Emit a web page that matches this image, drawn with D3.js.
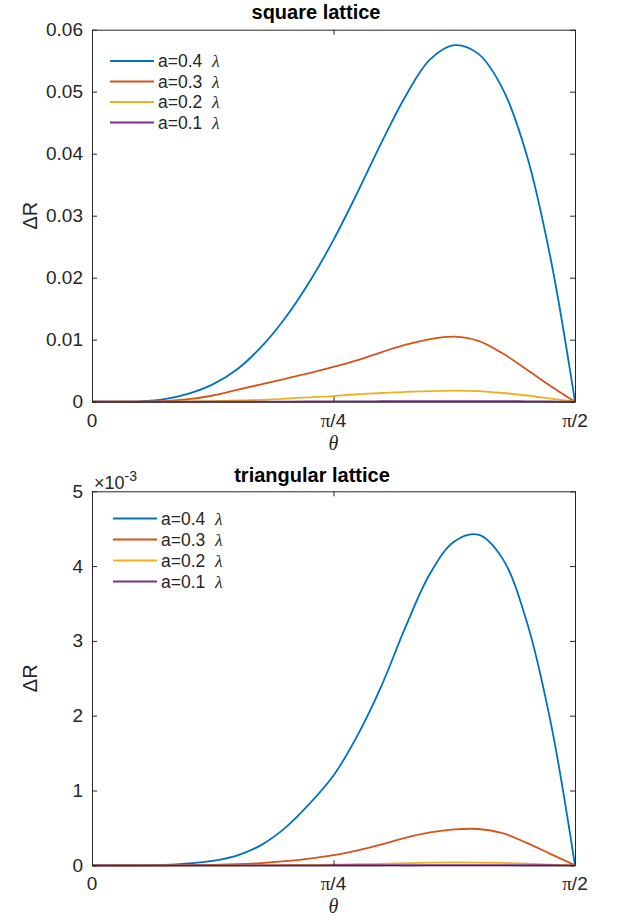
<!DOCTYPE html>
<html>
<head>
<meta charset="utf-8">
<script src="https://cdn.jsdelivr.net/npm/d3@7"></script>
<style>
  body { margin: 0; background: #fff; }
  text { font-family: "Liberation Sans", Arial, sans-serif; fill: #262626; }
  .axis path, .axis line { stroke: #262626; }
</style>
</head>
<body>
<div id="chart"></div>
<script>
// theta in degrees (axis labelled 0, pi/4, pi/2)
var theta = [0, 4.5, 9, 13.5, 18, 22.5, 27, 31.5, 36, 40.5, 45, 49.5, 54, 58.5, 63, 67.5, 72, 76.5, 81, 85.5, 90];

var labels = ["a=0.4", "a=0.3", "a=0.2", "a=0.1"];
var colors = ["#0072BD", "#D95319", "#EDB120", "#7E2F8E"];

// square lattice, delta R
var sq04 = [0, 0, 0.00005, 0.0004, 0.0013, 0.0028, 0.0052, 0.0088, 0.0135, 0.0193, 0.0261, 0.0338, 0.0419, 0.0494, 0.0552, 0.0575, 0.0561, 0.0505, 0.0398, 0.0229, 0];
var sq03 = [0, 0, 0, 0.0001, 0.0004, 0.0010, 0.0019, 0.0028, 0.0037, 0.0046, 0.0056, 0.0067, 0.0080, 0.0092, 0.0101, 0.0105, 0.0098, 0.0078, 0.0052, 0.0025, 0];
var sq02 = [0, 0, 0, 0, 0.00005, 0.0001, 0.0002, 0.0003, 0.0005, 0.0007, 0.0009, 0.0012, 0.0014, 0.0016, 0.0017, 0.0018, 0.0017, 0.0014, 0.0010, 0.0005, 0];
var sq01 = [0, 0, 0, 0, 0, 0, 0, 0.00001, 0.00002, 0.00003, 0.00004, 0.00006, 0.00007, 0.00009, 0.0001, 0.0001, 0.0001, 0.00009, 0.00006, 0.00003, 0];

// triangular lattice, delta R in units of 1e-3
var tr04 = [0, 0, 0, 0.005, 0.025, 0.06, 0.13, 0.27, 0.50, 0.82, 1.20, 1.74, 2.41, 3.20, 3.90, 4.33, 4.42, 4.10, 3.26, 1.90, 0];
var tr03 = [0, 0, 0, 0, 0.002, 0.006, 0.015, 0.03, 0.055, 0.09, 0.135, 0.20, 0.28, 0.37, 0.44, 0.48, 0.485, 0.43, 0.30, 0.15, 0];
var tr02 = [0, 0, 0, 0, 0, 0, 0.001, 0.002, 0.004, 0.006, 0.01, 0.015, 0.02, 0.028, 0.035, 0.038, 0.037, 0.032, 0.022, 0.01, 0];
var tr01 = [0, 0, 0, 0, 0, 0, 0, 0, 0, 0, 0.0005, 0.0007, 0.001, 0.001, 0.0012, 0.0013, 0.0013, 0.0012, 0.0009, 0.0005, 0];

var xTicks = [0, 45, 90];
var xTickLabels = [["", "0"], ["\u03c0", "/4"], ["\u03c0", "/2"]];
var yTicksSq = [0, 0.01, 0.02, 0.03, 0.04, 0.05, 0.06];
var yTicksTr = [0, 1, 2, 3, 4, 5];

var W = 618, H = 920;
var svg = d3.select("#chart").append("svg")
  .attr("width", W)
  .attr("height", H);

var left = 92, right = 575;

function drawPanel(opt) {
  var x = d3.scaleLinear().domain([0, 90]).range([left, right]);
  var y = d3.scaleLinear().domain(opt.ydomain).range([opt.bottom, opt.top]);
  var g = svg.append("g");

  // curves
  var line = d3.line()
    .x(function (d) { return x(d[0]); })
    .y(function (d) { return y(d[1]); })
    .curve(d3.curveCatmullRom.alpha(0.5));

  opt.series.forEach(function (s, i) {
    g.append("path")
      .attr("d", line(theta.map(function (t, j) { return [t, s[j]]; })))
      .attr("fill", "none")
      .attr("stroke", colors[i])
      .attr("stroke-width", 1.8);
  });

  // axes, ticks inside, box on
  g.append("g").attr("class", "axis")
    .attr("transform", "translate(0," + opt.bottom + ")")
    .call(d3.axisBottom(x).tickValues(xTicks).tickSize(-5).tickSizeOuter(0).tickFormat(""));
  g.append("g").attr("class", "axis")
    .attr("transform", "translate(0," + opt.top + ")")
    .call(d3.axisTop(x).tickValues(xTicks).tickSize(-5).tickSizeOuter(0).tickFormat(""));
  var yl = g.append("g").attr("class", "axis")
    .attr("transform", "translate(" + left + ",0)")
    .call(d3.axisLeft(y).tickValues(opt.yticks).tickSize(-5).tickSizeOuter(0).tickFormat(opt.yfmt));
  g.append("g").attr("class", "axis")
    .attr("transform", "translate(" + right + ",0)")
    .call(d3.axisRight(y).tickValues(opt.yticks).tickSize(-5).tickSizeOuter(0).tickFormat(""));

  yl.selectAll("text")
    .attr("x", -9)
    .style("font-family", "Liberation Sans, Arial, sans-serif")
    .style("font-size", "19px")
    .attr("fill", "#262626");

  // x tick labels
  xTicks.forEach(function (t, i) {
    var tx = g.append("text")
      .attr("x", x(t))
      .attr("y", opt.bottom + 25)
      .attr("text-anchor", "middle")
      .style("font-size", "19px");
    tx.append("tspan")
      .style("font-family", "Liberation Serif, Times New Roman, serif")
      .text(xTickLabels[i][0]);
    tx.append("tspan").text(xTickLabels[i][1]);
  });

  // x label
  g.append("text")
    .attr("x", (left + right) / 2)
    .attr("y", opt.bottom + 48)
    .attr("text-anchor", "middle")
    .style("font-family", "Liberation Serif, Times New Roman, serif")
    .style("font-style", "italic")
    .style("font-size", "20px")
    .text("\u03b8");

  // y label
  g.append("text")
    .attr("transform", "translate(37," + (opt.top + opt.bottom) / 2 + ") rotate(-90)")
    .attr("text-anchor", "middle")
    .style("font-size", "20px")
    .text("\u0394R");

  // title
  g.append("text")
    .attr("x", opt.titleX)
    .attr("y", opt.top - opt.titleGap)
    .attr("text-anchor", "middle")
    .style("font-weight", "bold")
    .style("font-size", "20px")
    .style("fill", "#000")
    .text(opt.title);

  // legend
  labels.forEach(function (lab, i) {
    var ly = opt.legTop + i * opt.legStep;
    g.append("line")
      .attr("x1", opt.legX).attr("x2", opt.legX + 44)
      .attr("y1", ly).attr("y2", ly)
      .attr("stroke", colors[i])
      .attr("stroke-width", 1.8);
    var t = g.append("text")
      .attr("x", opt.legX + 48)
      .attr("y", ly + 6)
      .style("font-size", "17.5px");
    t.append("tspan").text(lab + "\u00a0\u00a0");
    t.append("tspan")
      .style("font-family", "Liberation Serif, Times New Roman, serif")
      .style("font-style", "italic")
      .text("\u03bb");
  });

  return g;
}

drawPanel({
  top: 29.7, bottom: 401.7,
  ydomain: [0, 0.06], yticks: yTicksSq,
  yfmt: function (d) { return d === 0 ? "0" : d3.format(".2f")(d); },
  series: [sq04, sq03, sq02, sq01],
  title: "square lattice", titleX: 316, titleGap: 11,
  legX: 110, legTop: 61, legStep: 20.5
});

var gb = drawPanel({
  top: 491.3, bottom: 865.3,
  ydomain: [0, 5], yticks: yTicksTr,
  yfmt: d3.format("d"),
  series: [tr04, tr03, tr02, tr01],
  title: "triangular lattice", titleX: 312, titleGap: 9.5,
  legX: 113, legTop: 518.5, legStep: 21
});

// exponent label
var ex = gb.append("text")
  .attr("x", 94)
  .attr("y", 489)
  .style("font-size", "18px");
ex.append("tspan").text("\u00d710");
ex.append("tspan").attr("dy", -8).style("font-size", "14px").text("-3");
</script>
</body>
</html>
